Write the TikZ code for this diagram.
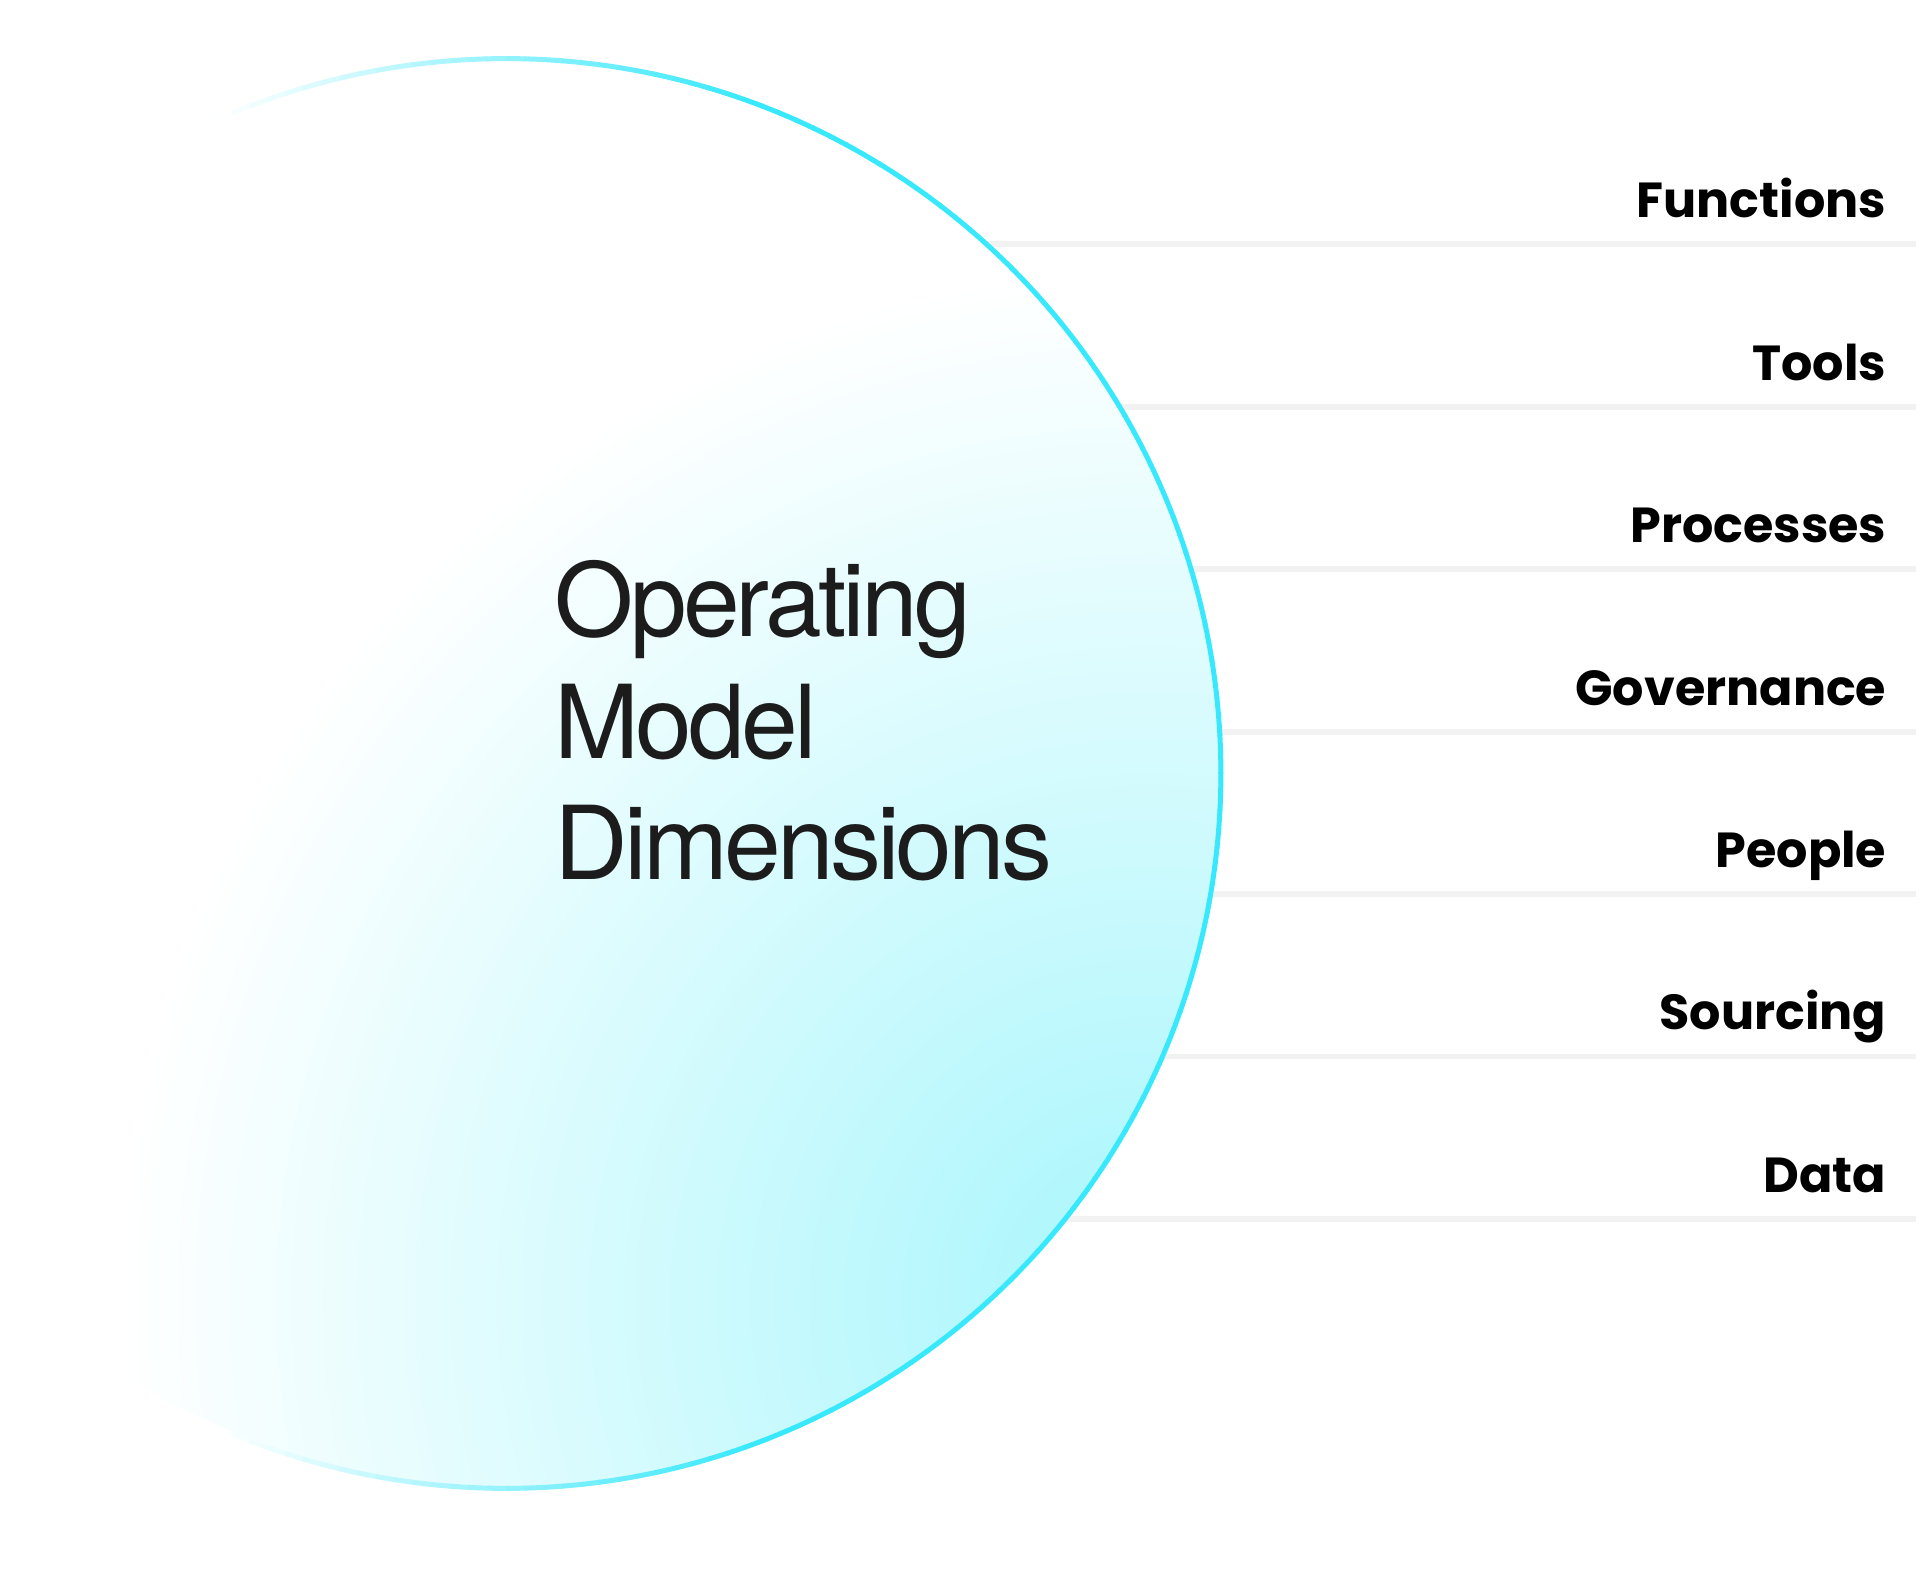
\documentclass[tikz,border=0pt]{standalone}
\usepackage{fontspec}
\newfontfamily\labelfont{Poppins}
\newfontfamily\headfont{TeX Gyre Heros}[LetterSpace=-3.8]
\definecolor{rimcyan}{HTML}{38E8FC}
\definecolor{glowcyan}{HTML}{A6F6FC}
\definecolor{rulegray}{HTML}{F2F2F2}
\definecolor{inkgray}{HTML}{1C1C1C}

\pgfdeclareradialshading{glow}{\pgfpoint{0bp}{0bp}}{color(0bp)=(glowcyan); color(25bp)=(white); color(50bp)=(white)}

\begin{document}
\begin{tikzpicture}[
  x=0.01cm, y=-0.01cm,
  dimlabel/.style={anchor=base east, inner sep=0pt, text=black,
    font=\labelfont\bfseries\fontsize{14}{17}\selectfont},
  divider/.style={draw=rulegray, line width=1.7pt},
  rim/.style={line width=1.42pt},
  headline/.style={align=left, inner sep=0pt, text=inkgray,
    font=\headfont\fontsize{29}{34.6}\selectfont}
]
\useasboundingbox (0,0) rectangle (1920,1586);
\coordinate (hub) at (506,773.5);
% rules and labels
\foreach \name [count=\i from 0] in {Functions,Tools,Processes,Governance,People,Sourcing,Data} {
  \pgfmathsetmacro\ry{244.5+162.4*\i}
  \pgfmathsetmacro\rx{506+100*sqrt(7.145^2-((773.5-\ry)/100)^2)}
  \coordinate (rule-\i-a) at (\rx,\ry);
  \coordinate (rule-\i-b) at (1916,\ry);
  \draw[divider] (rule-\i-a) -- (rule-\i-b);
  \node[dimlabel] (dim-\name) at (1887,\ry-26.5) {\name};
}
% the circle
\begin{scope}
  \clip (hub) circle[radius=7.145cm];
  \shade[shading=glow] (1150,1300) circle[radius=10.3cm];
\end{scope}
% rim fades out to the left
\foreach \a in {0,1.5,...,358.5} {
  \pgfmathsetmacro\rimx{506+714.5*cos(\a+0.75)}
  \pgfmathsetmacro\p{max(0,min(100,(\rimx-220)/5.3))}
  \draw[rim, draw=rimcyan!\p!white] ([shift={(\a:7.145cm)}]hub) arc[start angle=\a, end angle=\a+1.6, radius=7.145cm];
}
\node[headline, anchor=base west] (headline) at (554,880) {Operating\\Model\\Dimensions};
\end{tikzpicture}
\end{document}
